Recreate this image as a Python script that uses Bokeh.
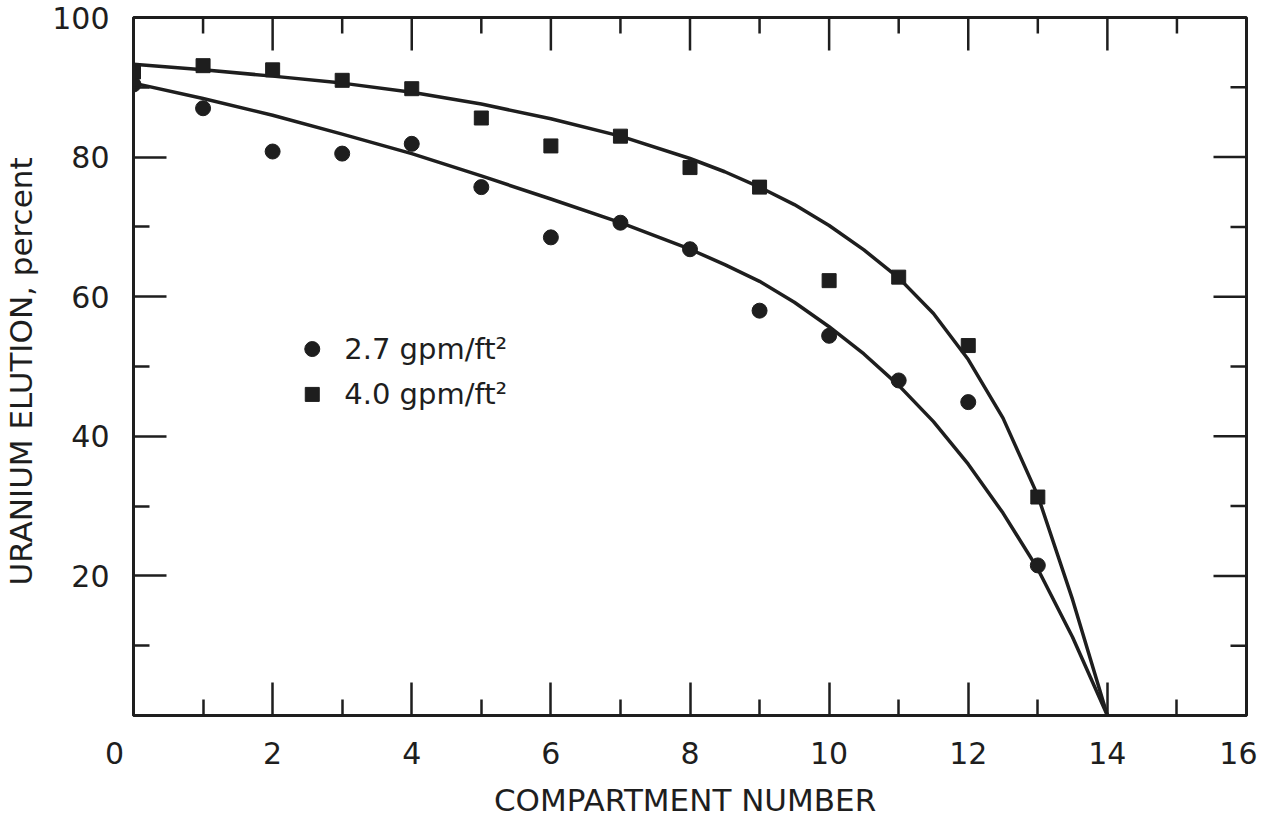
import math
from bokeh.plotting import figure
from bokeh.models import Range1d, FixedTicker, Label
from bokeh.embed import file_html
from bokeh.resources import INLINE

# ---- data ----
compartment = [0, 1, 2, 3, 4, 5, 6, 7, 8, 9, 10, 11, 12, 13]
elution_27 = [90.4, 87.0, 80.8, 80.5, 81.9, 75.7, 68.5, 70.6, 66.8, 58.0, 54.4, 48.0, 44.9, 21.5]
elution_40 = [92.2, 93.1, 92.5, 91.0, 89.8, 85.6, 81.6, 83.0, 78.5, 75.7, 62.3, 62.8, 53.0, 31.3]

fit_x = [0, 1, 2, 3, 4, 5, 6, 7, 8, 8.5, 9, 9.5, 10, 10.5, 11, 11.5, 12, 12.5, 13, 13.5, 14]
fit_27 = [90.6, 88.4, 86.0, 83.3, 80.5, 77.3, 74.0, 70.6, 66.8, 64.6, 62.2, 59.2, 55.7, 51.8, 47.3, 42.1, 36.0, 29.0, 21.0, 11.2, 0.0]
fit_40 = [93.3, 92.5, 91.6, 90.6, 89.3, 87.6, 85.5, 83.0, 79.8, 77.9, 75.7, 73.2, 70.2, 66.7, 62.7, 57.6, 51.0, 42.6, 31.5, 16.6, 0.0]

x_major = [0, 2, 4, 6, 8, 10, 12, 14, 16]
x_minor = [1, 3, 5, 7, 9, 11, 13, 15]
y_major = [20, 40, 60, 80, 100]
y_minor = [10, 30, 50, 70, 90]
# the origin "0" sits left of the corner; non-breaking spaces push it left
x_label_overrides = {0: "0\u00a0\u00a0\u00a0\u00a0"}

legend_labels = ["2.7 gpm/ft\u00b2", "4.0 gpm/ft\u00b2"]
x_title = "COMPARTMENT  NUMBER"
y_title = "URANIUM  ELUTION, percent"

INK = "#1e1e1e"
FONT = "DejaVu Sans"
MAJOR_LEN = 33
MINOR_LEN = 16

p = figure(width=1257, height=820, output_backend="svg", toolbar_location=None,
           x_range=Range1d(0, 16), y_range=Range1d(0, 100),
           min_border_left=126, min_border_right=11, min_border_top=17, min_border_bottom=100,
           x_axis_label=x_title, y_axis_label=y_title)
p.grid.visible = False
p.outline_line_color = INK
p.outline_line_width = 3
p.background_fill_color = "white"
p.border_fill_color = "white"

def style_axis(ax):
    ax.axis_line_color = INK
    ax.axis_line_width = 3
    ax.major_tick_line_color = INK
    ax.major_tick_line_width = 2.5
    ax.minor_tick_line_color = INK
    ax.minor_tick_line_width = 2.5
    ax.major_tick_in = MAJOR_LEN
    ax.major_tick_out = 0
    ax.minor_tick_in = MINOR_LEN
    ax.minor_tick_out = 0
    ax.major_label_text_font = FONT
    ax.major_label_text_color = INK
    ax.major_label_text_font_size = "30px"
    ax.axis_label_text_font = FONT
    ax.axis_label_text_font_style = "normal"
    ax.axis_label_text_color = INK
    ax.axis_label_text_font_size = "31px"

xa = p.xaxis[0]
xa.ticker = FixedTicker(ticks=x_major, minor_ticks=x_minor)
xa.major_label_overrides = x_label_overrides
style_axis(xa)
xa.major_label_standoff = 20
xa.axis_label_standoff = 8

ya = p.yaxis[0]
ya.ticker = FixedTicker(ticks=y_major, minor_ticks=y_minor)
style_axis(ya)
ya.major_label_standoff = 24
ya.axis_label_standoff = 10

# inward ticks on the top and right frame edges
x_top = p.x_range.end
y_top = p.y_range.end
p.ray(x=x_major, y=[y_top] * len(x_major), length=MAJOR_LEN, length_units="screen",
      angle=-math.pi / 2, line_color=INK, line_width=2.5)
p.ray(x=x_minor, y=[y_top] * len(x_minor), length=MINOR_LEN, length_units="screen",
      angle=-math.pi / 2, line_color=INK, line_width=2.5)
p.ray(x=[x_top] * len(y_major), y=y_major, length=MAJOR_LEN, length_units="screen",
      angle=math.pi, line_color=INK, line_width=2.5)
p.ray(x=[x_top] * len(y_minor), y=y_minor, length=MINOR_LEN, length_units="screen",
      angle=math.pi, line_color=INK, line_width=2.5)

# fitted curves
p.line(fit_x, fit_27, line_color=INK, line_width=3.5, line_join="round")
p.line(fit_x, fit_40, line_color=INK, line_width=3.5, line_join="round")

# data points
p.scatter(compartment, elution_27, marker="circle", size=15, fill_color=INK, line_color=INK)
p.scatter(compartment, elution_40, marker="square", size=14, fill_color=INK, line_color=INK)

# legend (drawn manually)
leg_x, leg_y, leg_dy = 2.57, 52.5, 6.5
p.scatter([leg_x], [leg_y], marker="circle", size=15, fill_color=INK, line_color=INK)
p.scatter([leg_x], [leg_y - leg_dy], marker="square", size=14, fill_color=INK, line_color=INK)
for i, lab in enumerate(legend_labels):
    p.add_layout(Label(x=leg_x, y=leg_y - i * leg_dy, x_offset=32, text=lab,
                       text_font=FONT, text_font_size="29px", text_color=INK,
                       text_align="left", text_baseline="middle"))

open("out.html", "w").write(file_html(p, INLINE))
